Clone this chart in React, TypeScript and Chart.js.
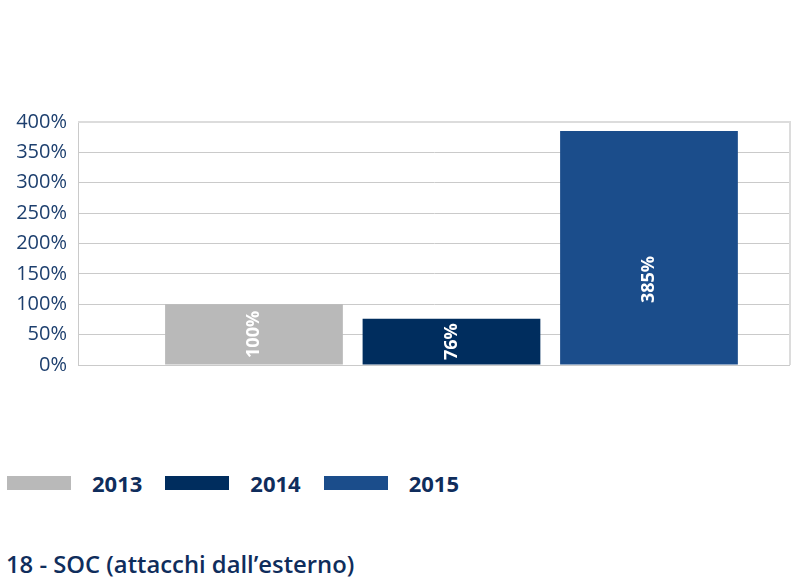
import React, { useEffect, useRef } from "react";
import { Chart, registerables } from "chart.js";

Chart.register(...registerables);

// ---- data ----
const years: string[] = ["2013", "2014", "2015"];
const values: number[] = [100, 76, 385];
const xSlots: number[] = [1, 2, 3];
const colors: string[] = ["#b9b9b9", "#002d5e", "#1b4d8b"];
const yMin = 0;
const yMax = 400;
const yStep = 50;
const titleText = "18 - SOC (attacchi dall\u2019esterno)";

const NAVY = "#0f2d5c";
const TICK = "#1d3f6e";
const GRID = "#cacaca";

const framePlugin = {
  id: "frame",
  beforeDatasetsDraw(chart: any) {
    const { ctx, chartArea } = chart;
    ctx.save();
    ctx.strokeStyle = "#dcdcdc";
    ctx.lineWidth = 2;
    ctx.beginPath();
    ctx.moveTo(chartArea.left, chartArea.top);
    ctx.lineTo(chartArea.right, chartArea.top);
    ctx.lineTo(chartArea.right, chartArea.bottom);
    ctx.stroke();
    ctx.strokeStyle = GRID;
    ctx.lineWidth = 1;
    ctx.beginPath();
    ctx.moveTo(chartArea.left, chartArea.bottom + 0.5);
    ctx.lineTo(chartArea.right, chartArea.bottom + 0.5);
    ctx.stroke();
    ctx.restore();
  },
};

const labelPlugin = {
  id: "barLabels",
  afterDatasetsDraw(chart: any) {
    const ctx = chart.ctx;
    chart.data.datasets.forEach((ds: any, i: number) => {
      const meta = chart.getDatasetMeta(i);
      meta.data.forEach((bar: any, j: number) => {
        const { x, y, base } = bar.getProps(["x", "y", "base"], true);
        const h = base - y;
        const cy = base - Math.min(h / 2, 85);
        const v = ds.data[j].y;
        ctx.save();
        ctx.translate(x, cy);
        ctx.rotate(-Math.PI / 2);
        ctx.textAlign = "center";
        ctx.textBaseline = "middle";
        ctx.fillStyle = "#ffffff";
        ctx.font = 'bold 18px "Open Sans"';
        ctx.fillText(v + "%", 0, 0);
        ctx.restore();
      });
    });
  },
};

export default function App() {
  const canvasRef = useRef<HTMLCanvasElement | null>(null);

  useEffect(() => {
    if (!canvasRef.current) return;
    const datasets = years.map((yr, i) => ({
      label: yr,
      data: [{ x: xSlots[i], y: values[i] }],
      backgroundColor: colors[i],
      borderWidth: 0,
      grouped: false,
      barPercentage: 0.9,
      categoryPercentage: 1,
    }));
    const chart = new Chart(canvasRef.current, {
      type: "bar",
      data: { datasets },
      options: {
        responsive: false,
        animation: false,
        layout: { padding: { left: 0, right: 10, top: 122, bottom: 35 } },
        plugins: {
          legend: { display: false },
          tooltip: { enabled: false },
          title: { display: false },
        },
        scales: {
          x: {
            type: "linear",
            min: 0.109,
            max: 3.714,
            offset: false,
            display: false,
            afterBuildTicks: (s: any) => {
              s.ticks = xSlots.map((v) => ({ value: v }));
            },
          },
          y: {
            min: yMin,
            max: yMax,
            ticks: {
              stepSize: yStep,
              callback: (v: any) => v + "%",
              color: TICK,
              font: { family: "Open Sans", size: 20 },
              padding: 11,
            },
            grid: { color: GRID, drawTicks: false },
            border: { color: GRID },
            afterFit: (s: any) => {
              s.width = 78;
            },
          },
        },
      } as any,
      plugins: [framePlugin, labelPlugin],
    });
    return () => chart.destroy();
  }, []);

  return (
    <div
      style={{
        position: "absolute",
        left: 0,
        top: 0,
        width: 800,
        height: 580,
        background: "#fff",
        fontFamily: '"Open Sans", sans-serif',
        overflow: "hidden",
      }}
    >
      <canvas
        ref={canvasRef}
        width={800}
        height={400}
        style={{ position: "absolute", left: 0, top: 0, width: 800, height: 400 }}
      />
      <div
        style={{
          position: "absolute",
          left: 7,
          top: 473,
          height: 20,
          display: "flex",
          alignItems: "center",
        }}
      >
        {years.map((yr, i) => (
          <div key={yr} style={{ display: "flex", alignItems: "center", marginRight: 23 }}>
            <div style={{ width: 64, height: 14, background: colors[i], marginRight: 21 }} />
            <span
              style={{
                fontWeight: 700,
                fontSize: 22,
                lineHeight: "20px",
                color: NAVY,
              }}
            >
              {yr}
            </span>
          </div>
        ))}
      </div>
      <div
        style={{
          position: "absolute",
          left: 6,
          top: 551,
          fontSize: 23.8,
          lineHeight: "26px",
          fontWeight: 600,
          color: NAVY,
          whiteSpace: "nowrap",
        }}
      >
        {titleText}
      </div>
    </div>
  );
}
